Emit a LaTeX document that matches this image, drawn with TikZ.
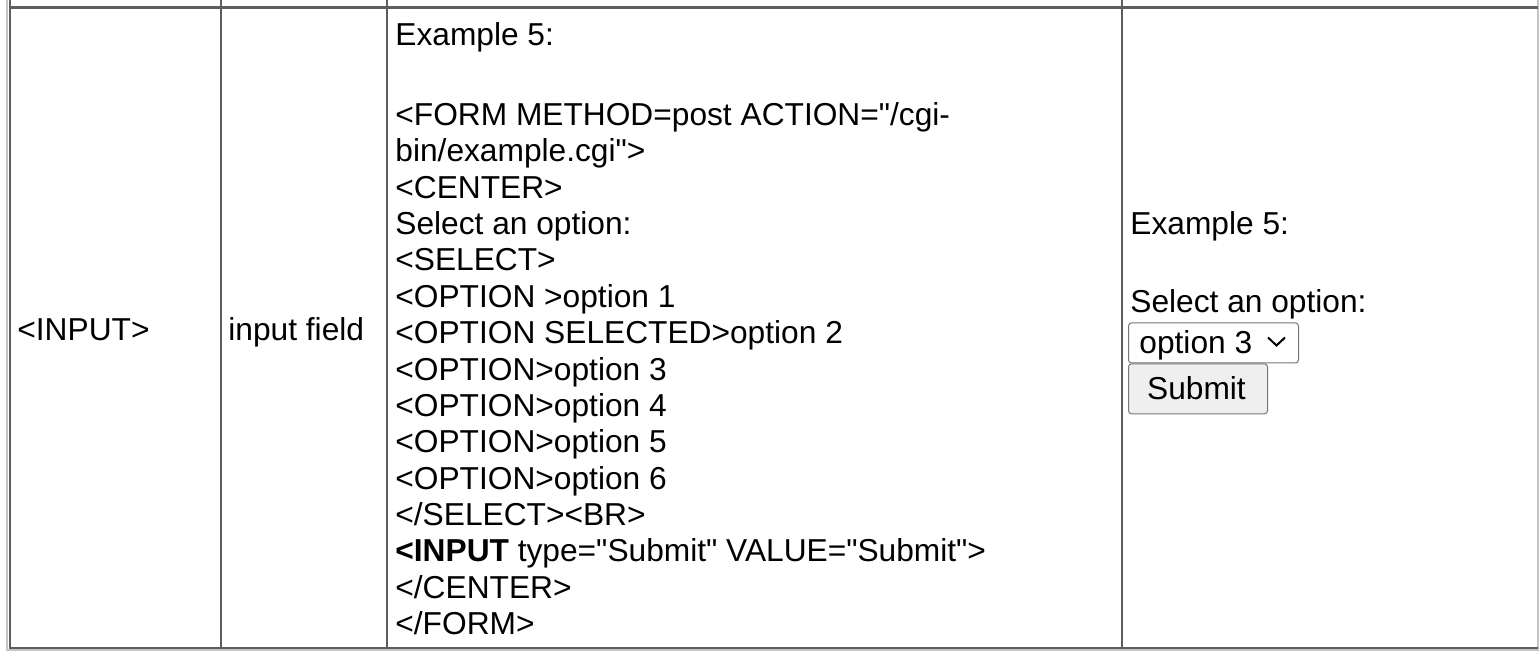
\documentclass[tikz,border=0pt]{standalone}
\usepackage{fontspec}
\setmainfont{Liberation Sans}
\newcommand{\sq}{\textquotedbl}
\definecolor{rulegray}{HTML}{5E5E5E}
\definecolor{edgegray}{HTML}{C4C4C4}
\definecolor{ctrlgray}{HTML}{767676}
\definecolor{btnfill}{HTML}{EFEFEF}
\begin{document}
\begin{tikzpicture}[x=0.5pt,y=-0.5pt,
    txt/.style={anchor=base west,inner sep=0pt,font=\fontsize{15.85}{18.15}\selectfont},
    ctrlbox/.style={draw=ctrlgray,line width=0.5pt,rounded corners=1.5pt,inner sep=0pt,anchor=north west}]
    \useasboundingbox (0,0) rectangle (1539,651);
    \draw[edgegray,line width=0.9pt] (7,0) -- (7,651) (1538.3,0) -- (1538.3,651) (7,650.3) -- (1539,650.3);
    \draw[rulegray,line width=1.2pt] (9.7,7.5) -- (1538,7.5) (9.7,648.3) -- (1538,648.3);
    \foreach \x in {9.7,221,386.8,1122}
        \draw[rulegray,line width=1.2pt] (\x,0) -- (\x,649);
    \node[txt] (tag) at (17,340.5) {<INPUT>};
    \node[txt] (desc) at (228,340.5) {input field};
    \node[txt] (ex) at (395,45.3) {Example 5:};
    \foreach \t [count=\i] in {{<FORM METHOD=post ACTION=\sq/cgi-},{bin/example.cgi\sq>},{<CENTER>},
        {Select an option:},{<SELECT>},{<OPTION >option 1},{<OPTION SELECTED>option 2},
        {<OPTION>option 3},{<OPTION>option 4},{<OPTION>option 5},{<OPTION>option 6},
        {</SELECT><BR>},{\textbf{<INPUT} type=\sq Submit\sq{} VALUE=\sq Submit\sq>},{</CENTER>},{</FORM>}}
        \node[txt] (code\i) at (395,{125.5+36.36*(\i-1)}) {\t};
    \node[txt] (res) at (1130,234.5) {Example 5:};
    \node[txt] (prompt) at (1130,312.5) {Select an option:};
    \node[ctrlbox,fill=white,minimum width=85pt,minimum height=20pt] (pick) at (1128,322.5) {};
    \node[txt] (pickval) at (1139,354) {option 3};
    \draw[line width=1pt] (1268,337.5) -- (1276.5,345.5) -- (1285,337.5);
    \node[ctrlbox,fill=btnfill,minimum width=69.5pt,minimum height=25pt] (send) at (1128,363.3) {};
    \node[txt] (sendval) at (1146.7,400) {Submit};
\end{tikzpicture}
\end{document}
